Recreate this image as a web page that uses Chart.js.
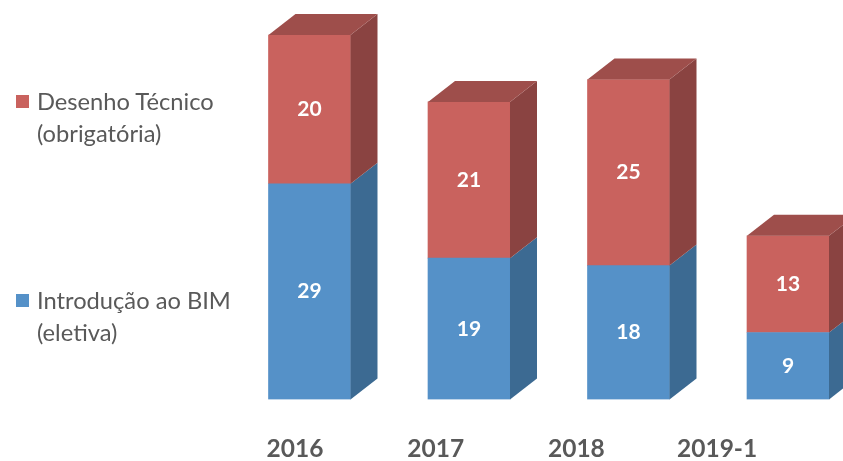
<!DOCTYPE html>
<html>
<head>
<meta charset="utf-8">
<script src="https://cdn.jsdelivr.net/npm/chart.js@4"></script>
<style>
  html, body { margin: 0; padding: 0; background: #ffffff; }
  #wrap { position: relative; width: 843px; height: 461px; overflow: hidden; }
  #c { position: absolute; left: 0; top: 0; }
  .leg { position: absolute; left: 16px; font-family: Lato, "Open Sans", sans-serif; font-size: 23.7px; color: #595959; line-height: 32px; }
  .leg .box { position: absolute; left: 0; top: 10px; width: 13px; height: 13px; }
  .leg .txt { position: absolute; left: 21px; top: 0; white-space: nowrap; }
</style>
</head>
<body>
<div id="wrap">
  <canvas id="c" width="843" height="461"></canvas>
  <div class="leg" style="top:85px"><div class="box" style="background:#C9625E"></div><div class="txt">Desenho Técnico<br>(obrigatória)</div></div>
  <div class="leg" style="top:284px"><div class="box" style="background:#5591C8"></div><div class="txt">Introdução ao BIM<br>(eletiva)</div></div>
</div>
<script>
const categories = ['2016', '2017', '2018', '2019-1'];
const bimValues = [29, 19, 18, 9];
const desenhoValues = [20, 21, 25, 13];
const seriesNames = ['Introdução ao BIM (eletiva)', 'Desenho Técnico (obrigatória)'];

const frontColors = ['#5591C8', '#C9625E'];
const sideColors = ['#3C6A92', '#8A4341'];
const topColors = ['#3F709B', '#9E4E4B'];
const DX = 27, DY = -21;

const threeD = {
  id: 'threeD',
  afterDatasetsDraw(chart) {
    const ctx = chart.ctx;
    const n = chart.data.datasets.length;
    ctx.save();
    for (let d = 0; d < n; d++) {
      const meta = chart.getDatasetMeta(d);
      meta.data.forEach((bar) => {
        const p = bar.getProps(['x', 'y', 'base', 'width'], true);
        const x1 = p.x + p.width / 2;
        const x0 = p.x - p.width / 2;
        ctx.fillStyle = sideColors[d];
        ctx.beginPath();
        ctx.moveTo(x1, p.base);
        ctx.lineTo(x1, p.y);
        ctx.lineTo(x1 + DX, p.y + DY);
        ctx.lineTo(x1 + DX, p.base + DY);
        ctx.closePath();
        ctx.fill();
        if (d === n - 1) {
          ctx.fillStyle = topColors[d];
          ctx.beginPath();
          ctx.moveTo(x0, p.y);
          ctx.lineTo(x1, p.y);
          ctx.lineTo(x1 + DX, p.y + DY);
          ctx.lineTo(x0 + DX, p.y + DY);
          ctx.closePath();
          ctx.fill();
        }
      });
    }
    ctx.fillStyle = '#ffffff';
    ctx.font = 'bold 21px Lato, "Open Sans", sans-serif';
    ctx.textAlign = 'center';
    ctx.textBaseline = 'middle';
    for (let d = 0; d < n; d++) {
      const meta = chart.getDatasetMeta(d);
      meta.data.forEach((bar, i) => {
        const p = bar.getProps(['x', 'y', 'base'], true);
        ctx.fillText(String(chart.data.datasets[d].data[i].y), p.x, (p.y + p.base) / 2);
      });
    }
    ctx.restore();
  }
};

new Chart(document.getElementById('c'), {
  type: 'bar',
  data: {
    datasets: [
      { label: seriesNames[0], data: bimValues.map((v, i) => ({ x: i, y: v })), backgroundColor: frontColors[0], barThickness: 82, borderWidth: 0 },
      { label: seriesNames[1], data: desenhoValues.map((v, i) => ({ x: i, y: v })), backgroundColor: frontColors[1], barThickness: 82, borderWidth: 0 }
    ]
  },
  options: {
    responsive: false,
    animation: false,
    layout: { padding: 0 },
    plugins: { legend: { display: false }, tooltip: { enabled: false } },
    scales: {
      x: { type: 'linear', stacked: true, display: false, offset: false, grid: { offset: false }, bounds: 'data', min: -1.9404, max: 3.3448 },
      x2: {
        type: 'linear', position: 'bottom', offset: false, bounds: 'data', min: -2.0967, max: 3.8948,
        grid: { display: false, offset: false }, border: { display: false },
        afterBuildTicks: (s) => { s.ticks = categories.map((c, i) => ({ value: i })); },
        afterFit: (s) => { s.height = 61.5; },
        ticks: {
          autoSkip: false, maxRotation: 0, minRotation: 0, padding: 26.5,
          color: '#595959',
          font: { family: 'Lato, "Open Sans", sans-serif', size: 24.5, weight: 'bold' },
          callback: (v) => categories[v]
        }
      },
      y: { stacked: true, display: false, min: 0, max: 53.7 }
    }
  },
  plugins: [threeD]
});
</script>
</body>
</html>
